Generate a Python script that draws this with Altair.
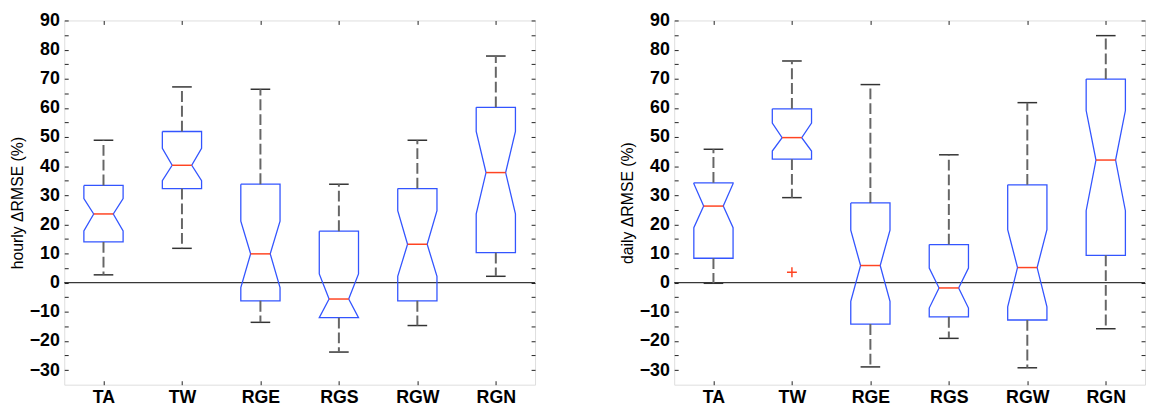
import altair as alt
import pandas as pd

cats = ["TA", "TW", "RGE", "RGS", "RGW", "RGN"]

# hourly panel
h_upper = [48.9, 67.2, 66.4, 33.8, 48.9, 77.8]
h_q3 = [33.4, 51.9, 33.8, 17.7, 32.3, 60.2]
h_notch_hi = [28.9, 46.1, 21.1, 3.0, 24.7, 51.9]
h_median = [23.6, 40.3, 9.9, -5.6, 13.2, 37.8]
h_notch_lo = [17.8, 35.0, -1.7, -12.0, 2.2, 23.6]
h_q1 = [14.0, 32.3, -6.2, -12.0, -6.2, 10.3]
h_lower = [2.7, 11.8, -13.6, -23.8, -14.7, 2.2]
h_out_cat = []
h_out_val = []

# daily panel
d_upper = [45.8, 76.1, 68.0, 43.9, 61.8, 84.8]
d_q3 = [34.3, 59.7, 27.4, 13.1, 33.6, 69.9]
d_notch_hi = [34.0, 54.8, 18.0, 5.0, 18.2, 59.1]
d_median = [26.3, 49.8, 5.9, -1.8, 5.2, 42.1]
d_notch_lo = [18.9, 45.2, -6.4, -8.7, -8.3, 24.7]
d_q1 = [8.4, 42.4, -14.2, -11.7, -12.8, 9.4]
d_lower = [-0.2, 29.2, -28.9, -19.1, -29.2, -15.8]
d_out_cat = ["TW"]
d_out_val = [3.6]

y_values = list(range(-30, 95, 5))
x_values = list(range(1, len(cats) + 1))

BLUE = "#3355ff"
RED = "#ff4422"
FONT = "Liberation Sans"
HW = 0.25  # box half width in category units
NW = 0.125  # notch / cap half width

xscale = alt.Scale(domain=[0.5, len(cats) + 0.5], nice=False, zero=False)
yscale = alt.Scale(domain=[-35, 90], nice=False, zero=False)

label_expr = "[" + ",".join("'%s'" % c for c in cats) + "][datum.value - 1]"


def panel(title, upper, q3, nhi, med, nlo, q1, lower, out_cat, out_val):
    poly = []
    stats = []
    for i, c in enumerate(cats):
        p = i + 1
        pts = [
            (p - HW, q3[i]), (p + HW, q3[i]), (p + HW, nhi[i]), (p + NW, med[i]),
            (p + HW, nlo[i]), (p + HW, q1[i]), (p - HW, q1[i]), (p - HW, nlo[i]),
            (p - NW, med[i]), (p - HW, nhi[i]), (p - HW, q3[i]),
        ]
        for k, (px, py) in enumerate(pts):
            poly.append({"cat": c, "x": px, "y": py, "ord": k})
        stats.append({"cat": c, "pos": p, "lo": p - NW, "hi": p + NW,
                      "upper": upper[i], "q3": q3[i], "med": med[i],
                      "q1": q1[i], "lower": lower[i]})
    poly = pd.DataFrame(poly)
    st = pd.DataFrame(stats)
    outl = pd.DataFrame({"pos": [cats.index(c) + 1 for c in out_cat], "v": out_val})

    left_axis = alt.Axis(
        orient="left", values=y_values, tickSize=4, offset=-4, domain=False, grid=False,
        labelExpr="datum.value % 10 === 0 ? datum.label : ''", labelOverlap=False,
        labelFont=FONT, labelFontSize=18, labelFontWeight="bold", labelColor="black",
        labelPadding=5, tickColor="#222", title=title, titleFont=FONT, titleFontSize=16,
        titleFontWeight="normal", titleColor="black", titlePadding=8,
        minExtent=35, maxExtent=35,
    )
    right_axis = alt.Axis(orient="right", values=y_values, tickSize=4, offset=-4,
                          domain=False, grid=False, labels=False, tickColor="#222", title=None)
    bottom_axis = alt.Axis(
        orient="bottom", values=x_values, tickSize=4, offset=-4, domain=False, grid=False,
        labelExpr=label_expr, labelFont=FONT, labelFontSize=18, labelFontWeight="bold",
        labelColor="black", labelPadding=4, labelFlush=False, tickColor="#222", title=None,
    )
    top_axis = alt.Axis(orient="top", values=x_values, tickSize=4, offset=-4, domain=False,
                        grid=False, labels=False, tickColor="#222", title=None)

    zero = alt.Chart(pd.DataFrame({"y": [0]})).mark_rule(color="black", strokeWidth=1).encode(
        y=alt.Y("y:Q", scale=yscale, axis=left_axis)
    )
    boxes = alt.Chart(poly).mark_line(color=BLUE, strokeWidth=1.3).encode(
        x=alt.X("x:Q", scale=xscale, axis=bottom_axis),
        y=alt.Y("y:Q", scale=yscale, axis=None),
        detail="cat:N",
        order="ord:Q",
    )
    caps_hi = alt.Chart(st).mark_rule(color="#333", strokeWidth=1.5).encode(
        x=alt.X("lo:Q", scale=xscale, axis=top_axis),
        x2="hi:Q",
        y=alt.Y("upper:Q", scale=yscale, axis=right_axis),
    )
    caps_lo = alt.Chart(st).mark_rule(color="#333", strokeWidth=1.5).encode(
        x=alt.X("lo:Q", scale=xscale, axis=None), x2="hi:Q",
        y=alt.Y("lower:Q", scale=yscale, axis=None),
    )
    wh_hi = alt.Chart(st).mark_rule(color="#666", strokeWidth=2, strokeDash=[11, 4]).encode(
        x=alt.X("pos:Q", scale=xscale, axis=None),
        y=alt.Y("q3:Q", scale=yscale, axis=None), y2="upper:Q",
    )
    wh_lo = alt.Chart(st).mark_rule(color="#666", strokeWidth=2, strokeDash=[11, 4]).encode(
        x=alt.X("pos:Q", scale=xscale, axis=None),
        y=alt.Y("q1:Q", scale=yscale, axis=None), y2="lower:Q",
    )
    meds = alt.Chart(st).mark_rule(color=RED, strokeWidth=1.5).encode(
        x=alt.X("lo:Q", scale=xscale, axis=None), x2="hi:Q",
        y=alt.Y("med:Q", scale=yscale, axis=None),
    )
    layers = [zero, boxes, caps_hi, caps_lo, wh_hi, wh_lo, meds]
    if len(outl):
        pts = alt.Chart(outl).mark_point(
            shape="M-1,0H1M0,-1V1", size=100, filled=False, color=RED, strokeWidth=1.5, opacity=1
        ).encode(
            x=alt.X("pos:Q", scale=xscale, axis=None),
            y=alt.Y("v:Q", scale=yscale, axis=None),
        )
        layers.append(pts)
    return alt.layer(*layers).resolve_axis(x="independent", y="independent").properties(
        width=477, height=369
    )


left = panel("hourly \u0394RMSE (%)", h_upper, h_q3, h_notch_hi, h_median, h_notch_lo,
             h_q1, h_lower, h_out_cat, h_out_val)
right = panel("daily \u0394RMSE (%)", d_upper, d_q3, d_notch_hi, d_median, d_notch_lo,
              d_q1, d_lower, d_out_cat, d_out_val)

chart = alt.hconcat(left, right, spacing=84).properties(
    padding={"left": 1, "top": 0, "right": 0, "bottom": 0}
).configure_view(stroke="#222", strokeWidth=1).configure(background="white")

chart.save("out.html", embed_options={"renderer": "svg", "actions": False})
